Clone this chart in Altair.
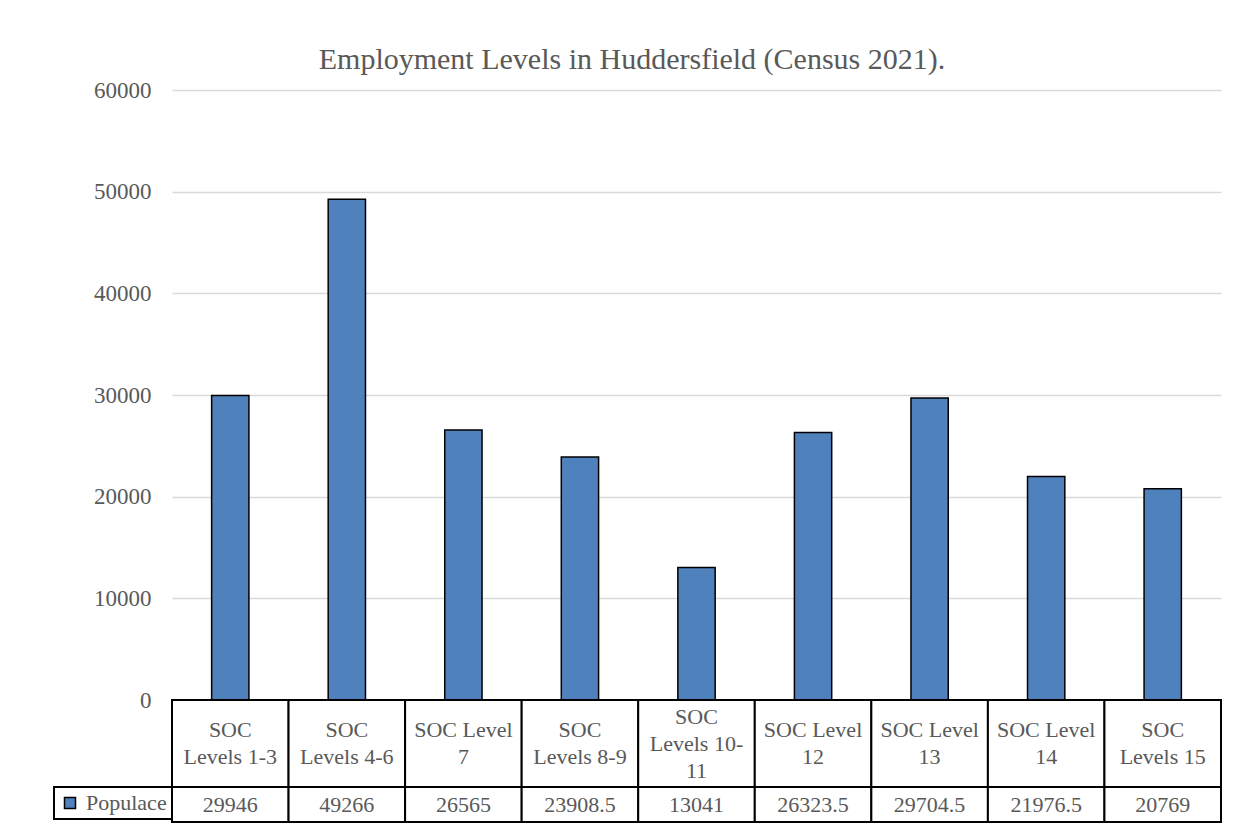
import altair as alt
import pandas as pd

# ---- data ----
categories = ["SOC Levels 1-3", "SOC Levels 4-6", "SOC Level 7", "SOC Levels 8-9",
              "SOC Levels 10-11", "SOC Level 12", "SOC Level 13", "SOC Level 14",
              "SOC Levels 15"]
header_labels = ["SOC\nLevels 1-3", "SOC\nLevels 4-6", "SOC Level\n7", "SOC\nLevels 8-9",
                 "SOC\nLevels 10-\n11", "SOC Level\n12", "SOC Level\n13", "SOC Level\n14",
                 "SOC\nLevels 15"]
populace = [29946, 49266, 26565, 23908.5, 13041, 26323.5, 29704.5, 21976.5, 20769]
series_name = "Populace"
y_ticks = [0, 10000, 20000, 30000, 40000, 50000, 60000]
title_text = "Employment Levels in Huddersfield (Census 2021)."

FONT = "Liberation Serif"
GRAY = "#595959"
BLUE = "#4f81bd"
LINE_H = 27

df = pd.DataFrame({
    "category": categories,
    "header": header_labels,
    "value": populace,
    "label": ["{:g}".format(v) for v in populace],
    "series": [series_name] * len(categories),
})

W = 1049

# ---- bar panel ----
x_bars = alt.X("category:N", sort=categories, axis=None,
               scale=alt.Scale(paddingInner=0.68, paddingOuter=0.34))
bars = alt.Chart(df).mark_bar(fill=BLUE, stroke="black", strokeWidth=1.5).encode(
    x=x_bars,
    y=alt.Y("value:Q",
            scale=alt.Scale(domain=[0, 60000], nice=False),
            axis=alt.Axis(values=y_ticks, title=None, domain=False, ticks=False,
                          grid=True, gridColor="#d9d9d9", gridWidth=1.5,
                          labelFont=FONT, labelFontSize=23, labelColor=GRAY,
                          labelPadding=21, minExtent=164, format="d")),
).properties(width=W, height=610)

# ---- data table: header row ----
x_tab = alt.X("category:N", sort=categories, axis=None,
              scale=alt.Scale(paddingInner=0, paddingOuter=0))
head_cells = alt.Chart(df).mark_rect(fill="white", stroke="black", strokeWidth=2).encode(x=x_tab)

def header_text(n_lines):
    return alt.Chart(df).transform_filter(
        f"length(split(datum.header, '\\n')) == {n_lines}"
    ).mark_text(font=FONT, fontSize=22, color=GRAY, lineBreak="\n",
                lineHeight=LINE_H, baseline="middle",
                dy=-(n_lines - 1) * LINE_H / 2).encode(x=x_tab, text="header:N")

header_row = alt.layer(head_cells, header_text(2), header_text(3)).properties(width=W, height=87)

# ---- data table: value row ----
val_cells = alt.Chart(df).mark_rect(fill="white", stroke="black", strokeWidth=2).encode(x=x_tab)
val_text = alt.Chart(df).mark_text(font=FONT, fontSize=22, color=GRAY, baseline="middle").encode(
    x=x_tab, text="label:N")
legend_carrier = alt.Chart(df).mark_point(filled=True, size=0, shape="square").encode(
    x=x_tab,
    fill=alt.Fill("series:N",
                  scale=alt.Scale(domain=[series_name], range=[BLUE]),
                  legend=alt.Legend(title=None, orient="left", offset=0, padding=5,
                                    strokeColor="black",
                                    symbolType="square", symbolSize=121,
                                    symbolStrokeColor="black", symbolStrokeWidth=1.5,
                                    symbolOpacity=1,
                                    labelFont=FONT, labelFontSize=22, labelColor=GRAY,
                                    labelOffset=5)),
)
value_row = alt.layer(val_cells, val_text, legend_carrier).properties(width=W, height=35)

chart = alt.vconcat(bars, header_row, value_row, spacing=0, bounds="flush").resolve_scale(
    fill="independent"
).resolve_legend(fill="independent").properties(
    title=alt.TitleParams(title_text, font=FONT, fontSize=30, fontWeight="normal",
                          color=GRAY, anchor="middle", offset=4, dx=17),
    padding={"left": 0, "top": 37, "right": 4, "bottom": 0},
).configure_view(stroke=None).configure_legend(strokeWidth=2)

chart.save("out.html", embed_options={"renderer": "svg", "actions": False})
